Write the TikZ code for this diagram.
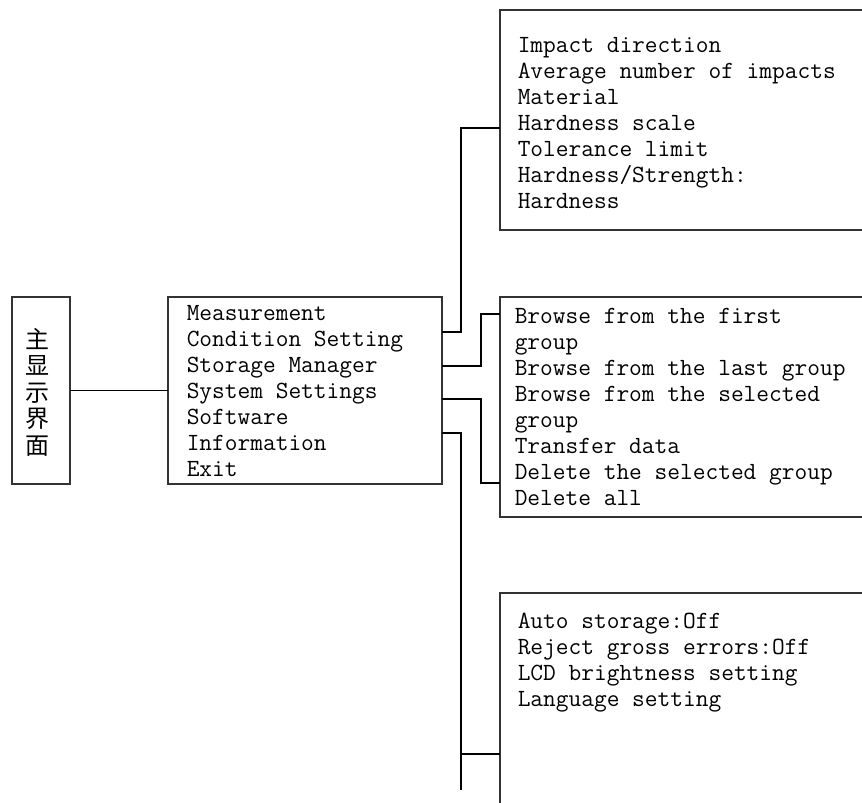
\documentclass[tikz,border=0pt]{standalone}
\usepackage{fontspec}
\newfontfamily\cjk{Noto Sans CJK SC}
\usetikzlibrary{calc}

\begin{document}
\begin{tikzpicture}[x=1pt, y=-1pt, line width=1.5pt, line join=miter,
        frame/.style={draw=black!80, inner sep=0pt, outer sep=0pt, anchor=north west},
        menutext/.style={anchor=north west, inner sep=0pt, align=left,
            font=\ttfamily\fontsize{24.7}{26}\selectfont\addfontfeatures{FakeBold=1.2}}]
        \clip (0,0) rectangle (862,803);

        % 方框
        \node[frame, minimum width=58pt, minimum height=187pt] (main) at (12,297) {};
        \node[frame, minimum width=274pt, minimum height=187pt] (menu) at (168,297) {};
        \node[frame, minimum width=420pt, minimum height=220pt] (cond) at (500,10) {};
        \node[frame, minimum width=420pt, minimum height=220pt] (store) at (500,297) {};
        \node[frame, minimum width=420pt, minimum height=320pt] (sys) at (500,593) {};

        % 文字
        \node[inner sep=0pt, align=center, font=\cjk\fontsize{24}{26.5}\selectfont] (title) at (37,392)
            {主\\显\\示\\界\\面};
        \node[menutext] (menulist) at (186,305)
            {Measurement\\Condition Setting\\Storage Manager\\System Settings\\Software\\Information\\Exit};
        \node[menutext] (condlist) at (517,37)
            {Impact direction\\Average number of impacts\\Material\\Hardness scale\\Tolerance limit\\Hardness/Strength:\\Hardness};
        \node[menutext] (storelist) at (514,308)
            {Browse from the first\\group\\Browse from the last group\\Browse from the selected\\group\\Transfer data\\Delete the selected group\\Delete all};
        \node[menutext] (syslist) at (517,612)
            {Auto storage:Off\\Reject gross errors:Off\\LCD brightness setting\\Language setting};

        % 连线的拐点
        \coordinate (k1) at (461,128);
        \coordinate (k2) at (481,314);
        \coordinate (k3) at (481,483);
        \coordinate (k4) at (461,754);
        \coordinate (k5) at (461,790);

        % 连线
        \draw (main.east) -- (menu.west |- main.east);
        \draw (menu.east |- 0,332) -| (k1) -- (cond.west |- k1);
        \draw (menu.east |- 0,366) -| (k2) -- (store.west |- k2);
        \draw (menu.east |- 0,399) -| (k3) -- (store.west |- k3);
        \draw (menu.east |- 0,433) -| (k5);
        \draw (k4) -- (sys.west |- k4);
    \end{tikzpicture}
\end{document}
